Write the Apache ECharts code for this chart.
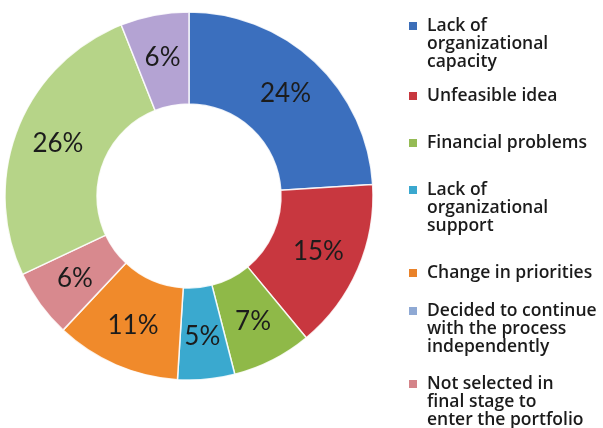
<!DOCTYPE html>
<html>
<head>
<meta charset="utf-8">
<script src="https://cdn.jsdelivr.net/npm/echarts@6/dist/echarts.min.js"></script>
<style>
  html, body { margin: 0; padding: 0; background: #ffffff; }
  #main { width: 603px; height: 428px; }
</style>
</head>
<body>
<div id="main"></div>
<script>
// slices, clockwise from 12 o'clock
const categories = [
  'Lack of organizational capacity',
  'Unfeasible idea',
  'Financial problems',
  'Lack of organizational support',
  'Change in priorities',
  'Not selected in final stage to enter the portfolio',
  'Decided to continue with the process independently',
  'Other'
];
const shares = [24, 15, 7, 5, 11, 6, 26, 6];
const sliceColors = ['#3b6fbe', '#c8373f', '#8fb948', '#3aa9cf', '#f08a2b', '#d8898e', '#b6d488', '#b4a3d3'];

// legend as drawn on the right (7 entries)
const legendNames = [
  'Lack of organizational capacity',
  'Unfeasible idea',
  'Financial problems',
  'Lack of organizational support',
  'Change in priorities',
  'Decided to continue with the process independently',
  'Not selected in final stage to enter the portfolio'
];
const legendLabels = [
  'Lack of\norganizational\ncapacity',
  'Unfeasible idea',
  'Financial problems',
  'Lack of\norganizational\nsupport',
  'Change in priorities',
  'Decided to continue\nwith the process\nindependently',
  'Not selected in\nfinal stage to\nenter the portfolio'
];
const legendColors = ['#3c6eb8', '#c8383f', '#95bb55', '#3aa8cf', '#e9822a', '#8fa9d4', '#d48489'];
const legendRowY = [24, 94, 141, 188, 271, 309, 382];

const LINE_H = 18;
const MARK = 8;

// one legend per entry so the gaps can follow the picture;
// the marker sits next to the first line of a wrapped label
const legends = legendNames.map((name, i) => {
  const lines = legendLabels[i].split('\n').length;
  const h = (lines - 1) * LINE_H + MARK;
  const icon = lines > 1
    ? 'path://M0,0L' + MARK + ',0L' + MARK + ',' + MARK + 'L0,' + MARK + 'Z M0,' + h + 'L' + MARK + ',' + h
    : 'rect';
  return {
    orient: 'vertical',
    left: 409,
    top: legendRowY[i] - 7,
    padding: 0,
    itemWidth: MARK,
    itemHeight: h,
    icon: icon,
    selectedMode: false,
    formatter: () => legendLabels[i],
    textStyle: {
      fontFamily: 'Open Sans',
      fontWeight: 600,
      fontSize: 17.5,
      lineHeight: LINE_H,
      color: '#1b1b1b',
      padding: [0, 0, 0, 5]
    },
    data: [{ name: name, itemStyle: { color: legendColors[i], borderWidth: 0 } }]
  };
});

const chart = echarts.init(document.getElementById('main'));
chart.setOption({
  animation: false,
  backgroundColor: '#ffffff',
  legend: legends,
  series: [{
    type: 'pie',
    center: [189, 196],
    radius: [92, 184],
    startAngle: 90,
    clockwise: true,
    avoidLabelOverlap: false,
    itemStyle: {
      borderColor: 'rgba(255,255,255,0.85)',
      borderWidth: 1.5
    },
    label: {
      show: true,
      position: 'inside',
      formatter: '{c}%',
      fontFamily: 'Lato',
      fontSize: 26,
      color: '#1c1c1c'
    },
    labelLine: { show: false },
    data: categories.map((name, i) => ({
      name: name,
      value: shares[i],
      itemStyle: { color: sliceColors[i] }
    }))
  }]
});
</script>
</body>
</html>
